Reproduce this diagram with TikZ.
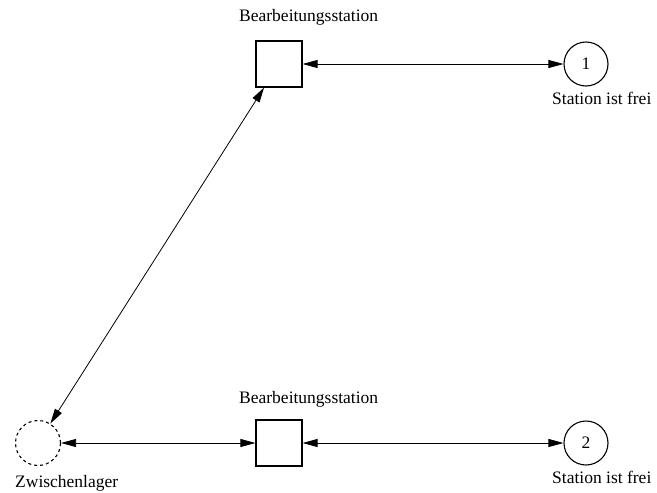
\documentclass[tikz,border=0pt]{standalone}
\usepackage{fontspec}
\setmainfont{Liberation Serif}
\usetikzlibrary{arrows.meta,positioning}

\begin{document}
\begin{tikzpicture}[
    x=1pt, y=-1pt,
    >={Triangle[length=15pt,width=8pt]},
    font=\fontsize{17.5}{20}\selectfont,
    station/.style={draw, line width=1.2pt, minimum size=46pt, inner sep=0pt},
    place/.style={circle, draw, line width=1.1pt, minimum size=44pt, inner sep=0pt},
    buffer/.style={circle, draw, line width=1.1pt, dashed, minimum size=45pt, inner sep=0pt},
    note/.style={anchor=base west, inner sep=0pt},
    flow/.style={<->, line width=0.8pt}
]

% fixed frame, 657 x 493
\useasboundingbox (0,0) rectangle (657,493);

% ---- upper station ----
\node[station] (station1) at (279,64) {};
\node[note] (label1) at (239,21) {Bearbeitungsstation};
\node[place] (free1) at (586,64) {1};
\node[note] (freelabel1) at (552,104) {Station ist frei};

% ---- lower station ----
\node[station] (station2) at (279,443) {};
\node[note] (label2) at (239,403) {Bearbeitungsstation};
\node[place] (free2) at (586,443) {2};
\node[note] (freelabel2) at (552,483) {Station ist frei};

% ---- buffer ----
\node[buffer] (buffer) at (38,443) {};
\node[note] (bufferlabel) at (15,487) {Zwischenlager};

% ---- connections ----
\draw[flow] (station1) -- (free1);
\draw[flow] (station2) -- (free2);
\draw[flow] (buffer) -- (station2);
\draw[flow] (buffer) -- (station1);

\end{tikzpicture}
\end{document}
